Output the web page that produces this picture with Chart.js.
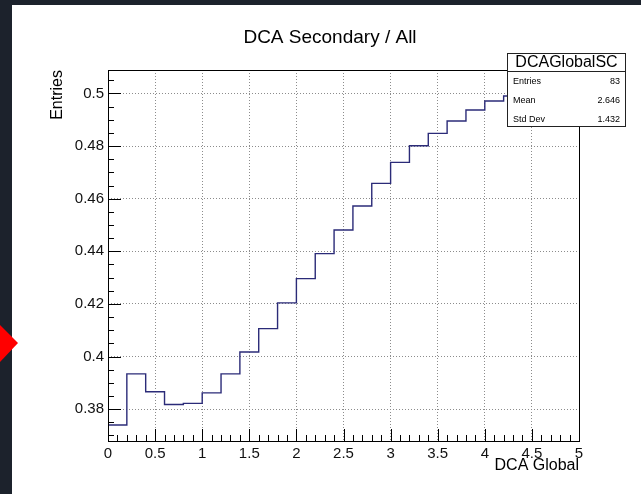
<!DOCTYPE html>
<html>
<head>
<meta charset="utf-8">
<script src="https://cdn.jsdelivr.net/npm/chart.js@4"></script>
<style>
  html, body { margin: 0; padding: 0; background: #1c222c; }
  #c { display: block; }
</style>
</head>
<body>
<canvas id="c" width="641" height="494"></canvas>
<script>
// histogram bins (lower edges) and ratio per bin
const binStarts = [0, 0.2, 0.4, 0.6, 0.8, 1.0, 1.2, 1.4, 1.6, 1.8, 2.0, 2.2, 2.4,
	2.6, 2.8, 3.0, 3.2, 3.4, 3.6, 3.8, 4.0, 4.2, 4.4, 4.6, 4.8];
const binWidth = 0.2;
const ratioValues = [0.3740, 0.3934, 0.3866, 0.3818, 0.3822, 0.3862, 0.3934, 0.4017,
	0.4106, 0.4204, 0.4296, 0.4391, 0.4481, 0.4572, 0.4658, 0.4738, 0.4801, 0.4848,
	0.4895, 0.4937, 0.4971, 0.4990, 0.5005, 0.5015, 0.5024];

const xTicks = [0, 0.5, 1, 1.5, 2, 2.5, 3, 3.5, 4, 4.5, 5];
const yTicks = [0.38, 0.40, 0.42, 0.44, 0.46, 0.48, 0.50];
const yTickLabels = ['0.38', '0.4', '0.42', '0.44', '0.46', '0.48', '0.5'];

const statsRows = [['Entries', '83'], ['Mean', '2.646'], ['Std Dev', '1.432']];

const FONT = '"Liberation Sans", Helvetica, Arial, sans-serif';
Chart.defaults.font.family = FONT;

// step points: each bin starts at its lower edge, last one closes at upper edge
const points = binStarts.map((x, i) => ({x: x, y: ratioValues[i]}));
points.push({x: binStarts[binStarts.length - 1] + binWidth, y: ratioValues[ratioValues.length - 1]});

const rootStyle = {
	id: 'rootStyle',
	beforeDraw(chart) {
		const ctx = chart.ctx;
		ctx.save();
		ctx.fillStyle = '#ffffff';
		ctx.fillRect(12, 5, 629, 489);
		ctx.restore();
	},
	afterDraw(chart) {
		const ctx = chart.ctx;
		const {left, right, top, bottom} = chart.chartArea;
		const xs = chart.scales.x, ys = chart.scales.y;
		ctx.save();

		// frame
		ctx.strokeStyle = '#000';
		ctx.lineWidth = 1;
		ctx.strokeRect(Math.round(left) + 0.5, Math.round(top) + 0.5, Math.round(right - left), Math.round(bottom - top));

		// inward ticks, x
		ctx.beginPath();
		for (let i = 0; i <= 50; i++) {
			const px = Math.round(xs.getPixelForValue(i * 0.1)) + 0.5;
			const len = i % 5 === 0 ? 12 : 6;
			ctx.moveTo(px, bottom);
			ctx.lineTo(px, bottom - len);
		}
		// inward ticks, y
		for (let k = 73; k <= 102; k++) {
			const v = k * 0.005;
			if (v < ys.min || v > ys.max) continue;
			const py = Math.round(ys.getPixelForValue(v)) + 0.5;
			const len = k % 4 === 0 ? 13 : 6;
			ctx.moveTo(left, py);
			ctx.lineTo(left + len, py);
		}
		ctx.stroke();

		// title
		ctx.fillStyle = '#000';
		ctx.font = '19px ' + FONT;
		ctx.textAlign = 'center';
		ctx.textBaseline = 'middle';
		ctx.fillText('DCA Secondary / All', 330, 38);

		// axis titles
		ctx.font = '16px ' + FONT;
		ctx.textAlign = 'right';
		ctx.fillText('DCA Global', right, 466);
		ctx.save();
		ctx.translate(58, top);
		ctx.rotate(-Math.PI / 2);
		ctx.textAlign = 'right';
		ctx.fillText('Entries', 0, 0);
		ctx.restore();

		// stats box
		const bx = 507.5, by = 53.5, bw = 118, bh = 73;
		ctx.fillStyle = '#fff';
		ctx.fillRect(bx, by, bw, bh);
		ctx.strokeStyle = '#222';
		ctx.strokeRect(bx, by, bw, bh);
		ctx.beginPath();
		ctx.moveTo(bx, 71.5);
		ctx.lineTo(bx + bw, 71.5);
		ctx.stroke();
		ctx.fillStyle = '#000';
		ctx.font = '16px ' + FONT;
		ctx.textAlign = 'center';
		ctx.fillText('DCAGlobalSC', bx + bw / 2, 63);
		ctx.font = '9px ' + FONT;
		statsRows.forEach((row, i) => {
			const ry = 82 + i * 18.7;
			ctx.textAlign = 'left';
			ctx.fillText(row[0], 513, ry);
			ctx.textAlign = 'right';
			ctx.fillText(row[1], 620, ry);
		});

		// red marker on the left edge
		ctx.fillStyle = '#ff0000';
		ctx.beginPath();
		ctx.moveTo(0, 325);
		ctx.lineTo(18, 343);
		ctx.lineTo(0, 362);
		ctx.closePath();
		ctx.fill();

		ctx.restore();
	}
};

new Chart(document.getElementById('c').getContext('2d'), {
	type: 'line',
	data: {
		datasets: [{
			label: 'DCAGlobalSC',
			data: points,
			stepped: 'before',
			borderColor: '#2b2b78',
			borderWidth: 1.4,
			pointRadius: 0,
			fill: false
		}]
	},
	options: {
		responsive: false,
		animation: false,
		devicePixelRatio: 1,
		layout: {padding: {left: 0, top: 70, right: 62, bottom: 0}},
		plugins: {
			legend: {display: false},
			tooltip: {enabled: false},
			title: {display: false}
		},
		scales: {
			x: {
				type: 'linear',
				min: 0,
				max: 5,
				afterBuildTicks: scale => { scale.ticks = xTicks.map(v => ({value: v})); },
				afterFit: scale => { scale.height = 53; },
				ticks: {
					color: '#111',
					font: {size: 15},
					padding: 4,
					maxRotation: 0,
					autoSkip: false,
					callback: v => String(v)
				},
				grid: {color: '#8c8c8c', lineWidth: 1, drawTicks: false},
				border: {display: false, dash: [1, 2]}
			},
			y: {
				type: 'linear',
				min: 0.3679,
				max: 0.5089,
				afterBuildTicks: scale => { scale.ticks = yTicks.map(v => ({value: v})); },
				afterFit: scale => { scale.width = 108; },
				ticks: {
					color: '#111',
					font: {size: 15},
					padding: 4,
					autoSkip: false,
					callback: (v, i) => yTickLabels[i]
				},
				grid: {color: '#8c8c8c', lineWidth: 1, drawTicks: false},
				border: {display: false, dash: [1, 2]}
			}
		}
	},
	plugins: [rootStyle]
});
</script>
</body>
</html>
